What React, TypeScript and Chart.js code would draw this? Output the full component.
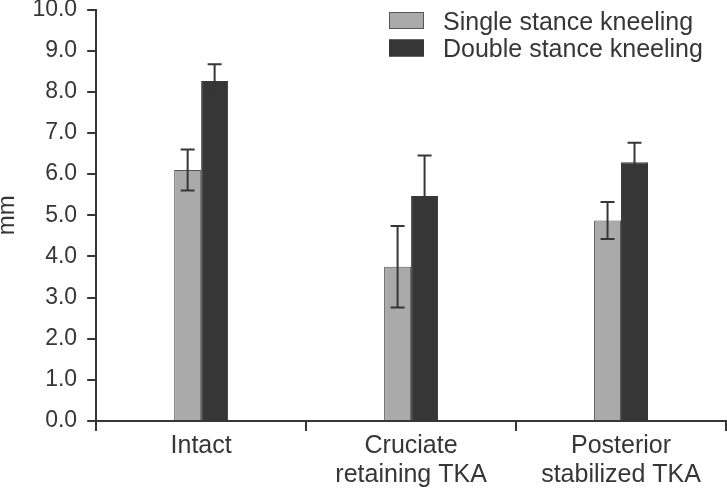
import { useEffect, useRef } from 'react'
import { Chart, registerables } from 'chart.js'

Chart.register(...registerables)

const categories = ['Intact', ['Cruciate', 'retaining TKA'], ['Posterior', 'stabilized TKA']]
const seriesNames = ['Single stance kneeling', 'Double stance kneeling']
const singleValues = [6.1, 3.75, 4.87]
const singleErrors = [0.5, 0.99, 0.45]
const doubleValues = [8.26, 5.47, 6.29]
const doubleErrors = [0.41, 0.98, 0.47]

const FONT = "'Liberation Sans', Arial, sans-serif"
const INK = '#363636'

const errorBars = {
  id: 'errorBars',
  afterDatasetsDraw(chart: any) {
    const { ctx } = chart
    const yScale = chart.scales.y
    ctx.save()
    ctx.strokeStyle = INK
    ctx.lineWidth = 2
    chart.data.datasets.forEach((ds: any, i: number) => {
      const meta = chart.getDatasetMeta(i)
      meta.data.forEach((bar: any, j: number) => {
        const v = ds.data[j]
        const e = ds.errors[j]
        const yTop = yScale.getPixelForValue(v + e)
        const yBot = yScale.getPixelForValue(v - e)
        const half = 7
        ctx.beginPath()
        ctx.moveTo(bar.x, yTop)
        ctx.lineTo(bar.x, yBot)
        ctx.moveTo(bar.x - half, yTop)
        ctx.lineTo(bar.x + half, yTop)
        ctx.moveTo(bar.x - half, yBot)
        ctx.lineTo(bar.x + half, yBot)
        ctx.stroke()
      })
    })
    ctx.restore()
  },
}

const boxLegend = {
  id: 'boxLegend',
  afterDraw(chart: any) {
    const { ctx } = chart
    ctx.save()
    ctx.font = `25px ${FONT}`
    ctx.textBaseline = 'alphabetic'
    ctx.textAlign = 'left'
    chart.data.datasets.forEach((ds: any, i: number) => {
      const x = 389
      const y = 12 + i * 27.5
      ctx.fillStyle = ds.backgroundColor
      ctx.fillRect(x, y, 35, 17)
      ctx.strokeStyle = ds.borderColor
      ctx.lineWidth = 1
      ctx.strokeRect(x + 0.5, y + 0.5, 34, 16)
      ctx.fillStyle = INK
      ctx.fillText(ds.label, 443, y + 17.5)
    })
    ctx.restore()
  },
}

export default function App() {
  const canvasRef = useRef<HTMLCanvasElement>(null)

  useEffect(() => {
    document.body.style.margin = '0'
    if (!canvasRef.current) return

    const chart = new Chart(canvasRef.current, {
      type: 'bar',
      data: {
        labels: categories as any,
        datasets: [
          {
            label: seriesNames[0],
            data: singleValues,
            errors: singleErrors,
            backgroundColor: '#aaaaaa',
            borderColor: '#555555',
            borderWidth: 1,
          } as any,
          {
            label: seriesNames[1],
            data: doubleValues,
            errors: doubleErrors,
            backgroundColor: INK,
            borderColor: INK,
            borderWidth: 1,
          } as any,
        ],
      },
      options: {
        animation: false,
        responsive: true,
        maintainAspectRatio: false,
        layout: { padding: { top: 9.5, right: 1, left: 0, bottom: 0 } },
        datasets: {
          bar: { categoryPercentage: 0.257, barPercentage: 1 },
        },
        plugins: {
          legend: { display: false },
          tooltip: { enabled: false },
        },
        scales: {
          x: {
            grid: {
              offset: true,
              drawOnChartArea: false,
              drawTicks: true,
              tickLength: 10,
              color: INK,
              lineWidth: 2,
            },
            border: { display: true, color: INK, width: 2 },
            ticks: {
              color: INK,
              font: { family: FONT, size: 25, lineHeight: 1.18 },
              padding: 0,
              maxRotation: 0,
              autoSkip: false,
            },
          },
          y: {
            min: 0,
            max: 10,
            afterFit: (scale: any) => {
              scale.paddingTop = 0
            },
            grid: {
              drawOnChartArea: false,
              drawTicks: true,
              tickLength: 9,
              color: INK,
              lineWidth: 2,
            },
            border: { display: true, color: INK, width: 2 },
            ticks: {
              stepSize: 1,
              color: INK,
              padding: 10,
              font: { family: FONT, size: 23 },
              callback: (v: any) => Number(v).toFixed(1),
            },
            title: {
              display: true,
              text: 'mm',
              color: INK,
              font: { family: FONT, size: 24, lineHeight: 0.6 },
              padding: { top: 0, bottom: 8 },
            },
          },
        },
      },
      plugins: [errorBars, boxLegend],
    })

    return () => chart.destroy()
  }, [])

  return (
    <div style={{ position: 'relative', width: 727, height: 490 }}>
      <canvas ref={canvasRef} />
    </div>
  )
}
